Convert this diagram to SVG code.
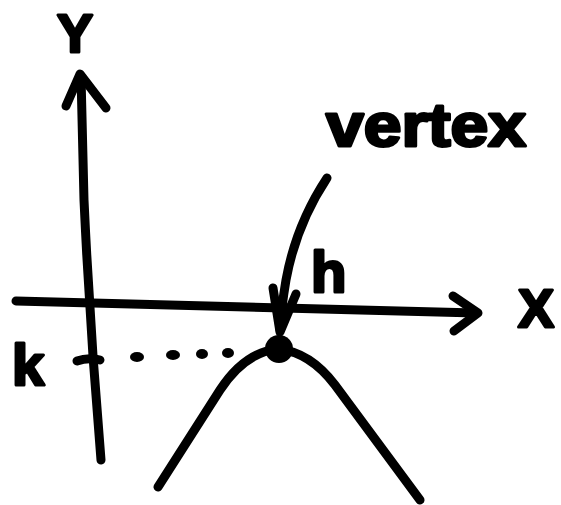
<svg xmlns="http://www.w3.org/2000/svg" width="561" height="505" viewBox="0 0 561 505">
<style>
.ink{fill:none;stroke:#000;stroke-width:9;stroke-linecap:round;stroke-linejoin:round}
.lbl{font-family:"Liberation Sans",Arial,sans-serif;font-weight:bold;fill:#000;stroke:#000;stroke-width:3;stroke-linejoin:round}
.dot{fill:#000}
</style>
<rect width="561" height="505" fill="#fff"/>
<g id="y-axis">
<path class="ink" d="M101,460 Q90,330 84,200 Q82,120 81,76"/>
<path class="ink" d="M66,106 L80,74 L106,108"/>
</g>
<g id="x-axis">
<path class="ink" d="M16,301 Q200,306 476,313"/>
<path class="ink" d="M453,296 L478,313 L454,331"/>
</g>
<g id="labels">
<text class="lbl" x="57" y="52" font-size="54">Y</text>
<text class="lbl" x="518" y="327" font-size="54">X</text>
<text class="lbl" x="12" y="385" font-size="58">k</text>
<text class="lbl" x="311" y="292" font-size="58">h</text>
<text class="lbl" x="326" y="146" font-size="62" textLength="200" lengthAdjust="spacingAndGlyphs">vertex</text>
</g>
<g id="k-tick">
<path class="ink" d="M77,361 Q88,357 100,360"/>
<ellipse class="dot" cx="137" cy="357" rx="7" ry="5"/>
<ellipse class="dot" cx="173" cy="355" rx="7" ry="5"/>
<ellipse class="dot" cx="202" cy="354" rx="6" ry="5"/>
<ellipse class="dot" cx="228" cy="353" rx="6" ry="5"/>
</g>
<g id="parabola">
<path class="ink" d="M158,487 L220,390 Q245,352 278,349 Q310,352 335,385 L420,500"/>
</g>
<g id="vertex">
<circle class="dot" cx="279" cy="349" r="14"/>
</g>
<g id="connectors">
<path class="ink" d="M327,178 Q296,225 286,280 Q281,310 280,330"/>
<path class="ink" d="M273,288 L280,332 L296,294"/>
</g>
</svg>
